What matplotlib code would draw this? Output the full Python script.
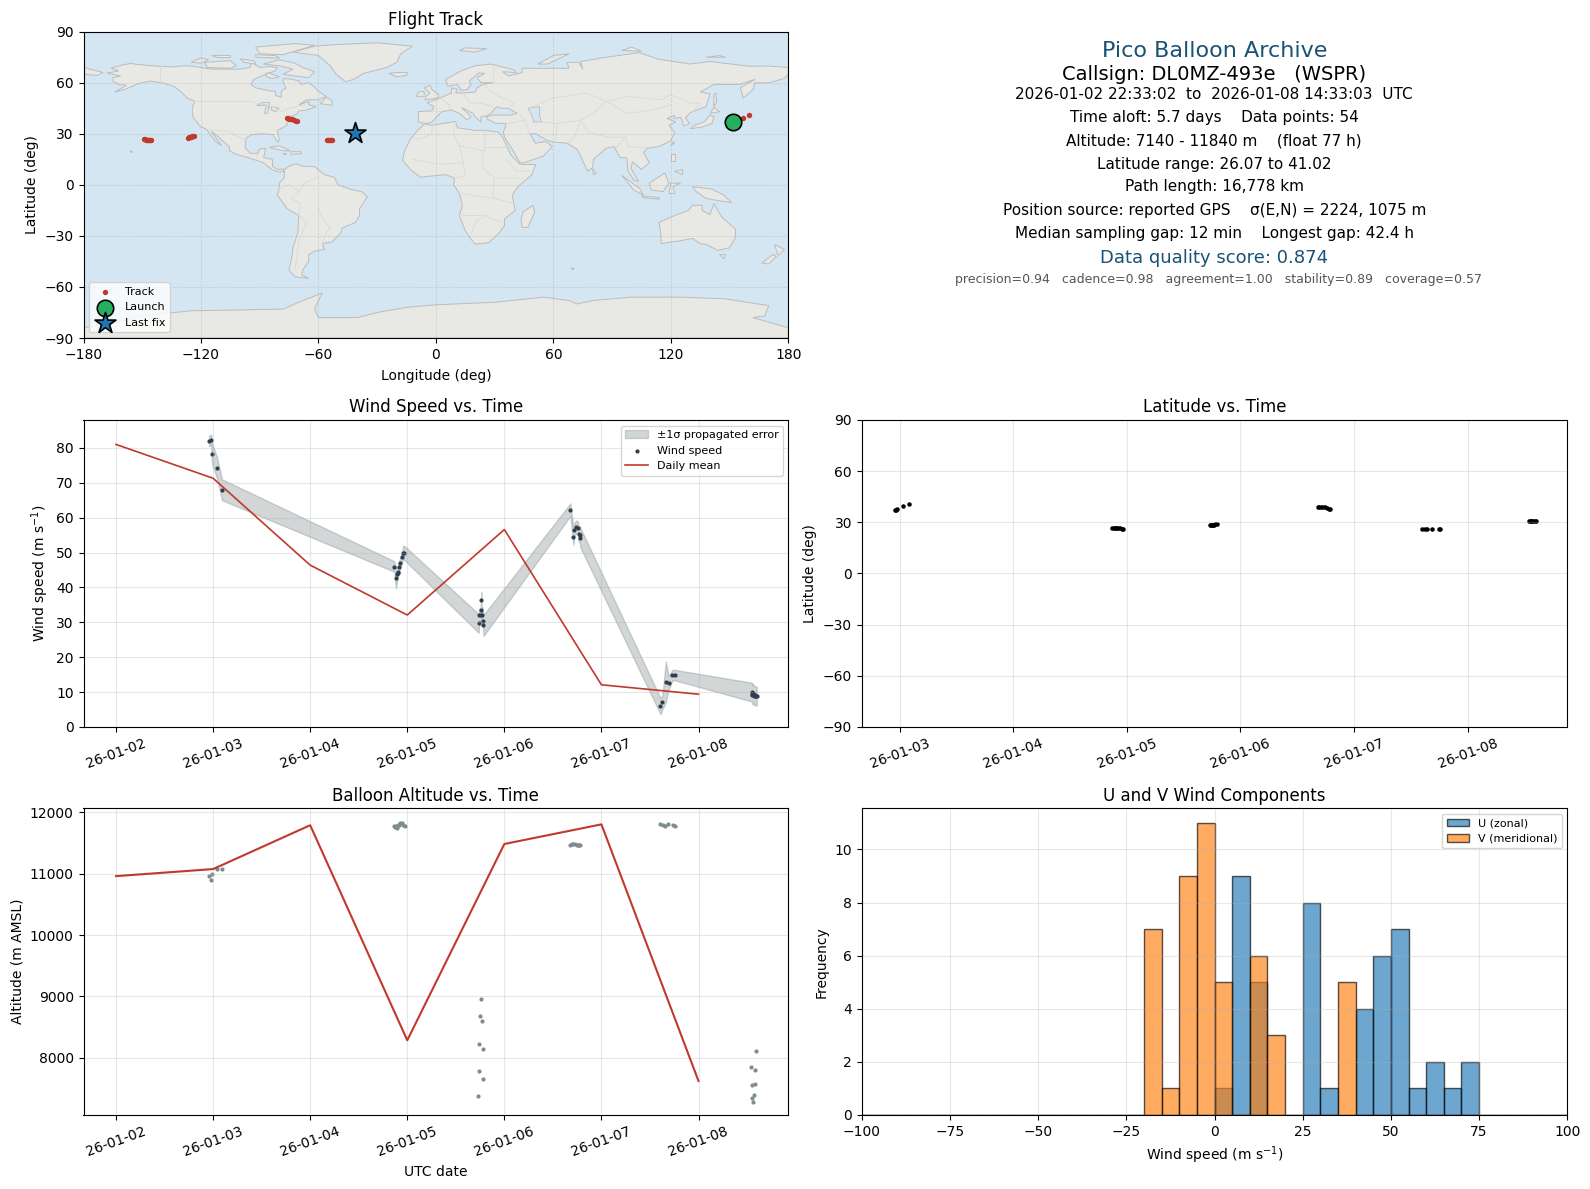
import datetime as dt
import numpy as np
import matplotlib
matplotlib.use('Agg')
import matplotlib.pyplot as plt
import matplotlib.dates as mdates
from matplotlib.patches import Polygon

W, H = 1590, 1189

# track positions, launch and last fix
track_lon = [152.0, 153.5, 155.0, 157.0, 160.1,
             -149.0, -148.6, -148.2, -147.8, -147.3, -146.9, -146.5, -146.2, -145.8, -145.5,
             -126.4, -126.0, -125.6, -125.2, -124.9, -124.5, -124.1, -123.7,
             -76.2, -75.5, -74.8, -74.2, -73.4, -72.6, -71.6, -70.8,
             -55.5, -55.0, -54.5, -54.0, -53.4, -52.9]
track_lat = [36.8, 37.3, 37.8, 39.1, 40.9,
             26.8, 26.7, 26.6, 26.5, 26.4, 26.3, 26.2, 26.1, 26.1, 26.1,
             27.8, 27.9, 28.1, 28.3, 28.4, 28.6, 28.8, 28.9,
             39.1, 39.0, 38.9, 38.7, 38.5, 38.2, 37.8, 37.3,
             26.2, 26.1, 26.1, 26.2, 26.2, 26.2]
launch_pos = (151.9, 36.8)
last_pos = (-41.2, 30.4)

# coarse land outlines (lon, lat)
north_america = [(-168, 65.6), (-164, 66.5), (-162, 67), (-166, 68.5), (-160, 70.5), (-156, 71.3), (-150, 70.5),
                 (-141, 69.7), (-135, 69.3), (-128, 70), (-124, 69.7), (-115, 68), (-108, 68), (-100, 68), (-95, 69),
                 (-94, 72), (-90, 69), (-85, 69.5), (-81, 69), (-82, 67), (-87, 65), (-93, 62), (-94.5, 59), (-92, 57),
                 (-85, 55.3), (-82, 55), (-82, 52.5), (-79, 51.5), (-79, 55), (-76.5, 57), (-78, 60), (-78, 62.5),
                 (-73, 62), (-70, 61), (-69, 59), (-65, 60), (-62, 57.5), (-60, 55), (-56, 52), (-60, 50), (-66, 50),
                 (-70, 47), (-65, 49), (-65, 47), (-61, 46), (-66, 44), (-70, 43.5), (-71, 41.5), (-74, 40.5),
                 (-76, 37), (-76, 35), (-81, 32), (-80, 27), (-80.5, 25), (-82, 27), (-83, 29.5), (-89, 30),
                 (-94, 29.5), (-97, 27.5), (-97.5, 22), (-95, 18.5), (-91, 18.5), (-90, 21), (-87, 21.5), (-88, 16),
                 (-83.5, 15), (-83.5, 11), (-81, 9), (-78, 9.3), (-77.3, 8), (-80, 7.5), (-83, 8.5), (-86, 11),
                 (-88, 13), (-92, 14.5), (-96, 16), (-102, 18), (-105.5, 20), (-105.5, 22.5), (-109, 26),
                 (-112.5, 29.5), (-114.8, 31.5), (-112, 27), (-109.5, 23), (-112, 25), (-115, 29), (-117, 32.5),
                 (-120.5, 34.5), (-122.5, 37.5), (-124, 40), (-124.5, 43), (-124, 47), (-123, 49), (-127, 51),
                 (-130, 54.5), (-134, 58), (-140, 60), (-146, 61), (-152, 59.5), (-158, 56.5), (-164, 54.5),
                 (-158, 58.5), (-162, 59), (-165, 61), (-165, 63), (-161, 64)]
south_america = [(-78, 8.5), (-75, 11), (-71.5, 12.3), (-68, 11), (-62, 10.7), (-57, 6), (-52, 4.5), (-50, 0),
                 (-44, -2.5), (-38, -4), (-35, -7), (-39, -14), (-39, -18), (-41, -22), (-48, -25.5), (-48.5, -28),
                 (-53, -33.5), (-58, -34.5), (-57, -38), (-62, -39), (-65, -41), (-65, -45), (-68, -50), (-68.5, -53),
                 (-65, -55), (-72, -54), (-75, -50), (-73.5, -42), (-73, -37), (-70.5, -28), (-70, -18), (-76, -14),
                 (-81, -6), (-80, -2.5), (-80, 1), (-77.5, 4), (-77.3, 8)]
africa = [(-6, 35.8), (-2, 35), (10, 37.3), (11, 33.5), (20, 32), (25, 32), (32, 31), (34, 28), (37, 21), (38, 18),
          (43, 12), (51, 12), (49, 6), (42, -1), (39, -6), (40.5, -15), (35, -20), (35, -24), (32.5, -28), (27, -34),
          (20, -34.8), (18, -32), (15, -27), (12, -18), (13.5, -12), (12, -5), (9, 0), (9.5, 4), (5, 6), (-4, 5),
          (-8, 4.5), (-13, 9), (-17, 14.5), (-16, 20), (-13, 27), (-10, 31)]
eurasia = [(-9, 37), (-9, 43), (-2, 43.5), (-1, 46), (-4.5, 48.3), (2, 51), (8, 54), (8, 57), (11, 56), (10, 54),
           (14, 54), (20, 54.5), (21, 57), (24, 59), (29, 60), (23, 60), (21, 63), (25, 65.5), (22, 65.8), (17, 61),
           (18, 59), (16, 56), (13, 55.5), (11, 59), (6, 58), (5, 62), (13, 67), (20, 70), (28, 71), (40, 67.5),
           (41, 66), (34, 66.5), (37, 64), (44, 66), (44, 68.5), (54, 68.5), (68, 68.5), (67, 72), (73, 72), (75, 68),
           (74, 72.5), (87, 75), (104, 77.7), (113, 74), (130, 71), (140, 72.5), (160, 69.7), (170, 69.8), (180, 69),
           (180, 65), (178, 62.5), (170, 60), (163, 60), (162, 56), (157, 51), (155.5, 57), (163, 62), (155, 59),
           (142, 59), (135, 54.5), (140, 53.5), (138, 46), (130, 42.5), (127.5, 39.5), (129.5, 36), (126.5, 34.5),
           (126, 37.5), (125, 39.7), (121.5, 39), (122, 40.8), (118, 39), (122.5, 37), (119, 35), (122, 31), (120, 26),
           (114, 22.5), (108, 21.5), (106, 19), (109, 13), (105, 9), (100.5, 13.5), (99.5, 10), (103.5, 2), (101, 3),
           (98, 8.5), (97.5, 16), (94, 16), (91, 22.5), (87, 21.5), (80.5, 15), (80, 10), (77.5, 8), (73, 19), (72, 21),
           (67, 24.5), (61, 25), (57, 26), (51, 30), (48, 30), (50, 26), (51, 24.5), (56, 25.5), (59.5, 22.5), (55, 17),
           (45, 13), (43, 13), (39, 21), (35, 28), (34.5, 31), (36, 36), (30, 36.3), (26.5, 38.5), (26, 40), (29, 41),
           (31, 41), (38, 41), (41.5, 42), (37, 45), (33.5, 45), (31, 46), (28, 42), (26, 40.5), (23, 40), (23, 37),
           (20, 40), (19, 42), (13, 45.5), (18, 40), (16, 38), (12, 42), (8, 44), (3, 43), (0, 39.5), (-2, 37), (-5, 36)]
antarctica = [(-180, -90), (-180, -84), (-160, -80), (-150, -77), (-125, -74), (-100, -73.5), (-78, -73), (-70, -69),
              (-58, -63.5), (-60, -68), (-62, -73), (-60, -78), (-40, -78), (-30, -75), (-15, -72), (0, -70.5),
              (30, -69), (55, -66), (68, -68), (72, -70), (80, -68), (100, -66), (125, -66), (148, -67), (170, -71),
              (168, -77), (162, -78), (180, -84), (180, -90)]
islands = [
    [(-73, 78), (-60, 76), (-54, 70), (-51, 65), (-46, 60.5), (-42, 62), (-37, 65.5), (-25, 69), (-20, 72), (-18, 77),
     (-12, 81.5), (-30, 83.5), (-50, 82.5), (-62, 81.5)],  # Greenland
    [(-80, 73.5), (-72, 71.5), (-68, 69), (-62, 66.5), (-65, 63), (-72, 64), (-78, 65), (-73, 68), (-80, 70), (-88, 71)],
    [(-117, 69), (-105, 68.5), (-102, 70), (-105, 73), (-118, 72)],
    [(-125, 72), (-120, 71.5), (-116, 73.5), (-120, 74.5)],
    [(-90, 77), (-78, 76.5), (-62, 82), (-72, 83), (-92, 81)],
    [(-92, 75), (-80, 74.5), (-82, 76), (-92, 76.5)],
    [(-112, 75), (-105, 75), (-105, 76.5), (-115, 76.5)],
    [(-100, 74), (-93, 73), (-92, 71), (-98, 72)],
    [(-86, 66), (-80, 63.5), (-84, 62.5), (-87, 64)],
    [(-59, 47.7), (-53, 46.8), (-53, 49.5), (-56, 51.5)],
    [(-85, 22), (-80, 23), (-74.5, 20), (-78, 20)],
    [(-74, 19.5), (-69, 19.5), (-68.5, 18.3), (-74, 18)],
    [(-78, 18.4), (-76.3, 18.2), (-77, 17.7)],
    [(-156, 20), (-155, 19.5), (-155.5, 19), (-156, 19.3)],
    [(-24, 65.5), (-20, 63.5), (-15, 64.3), (-14.5, 66), (-20, 66)],
    [(-5.5, 50), (1, 51), (1.5, 53), (-2, 56), (-3, 58.5), (-6, 57), (-3, 54), (-5, 52)],
    [(-10, 52), (-6, 52), (-6, 55), (-9, 54.5)],
    [(12, 79), (20, 78), (26, 80), (15, 80.5)],
    [(52, 71), (57, 71), (68, 77), (60, 76)],
    [(95, 79), (105, 78.5), (100, 81)],
    [(138, 75), (148, 75), (145, 76)],
    [(-180, 69), (-175, 67.5), (-170, 66), (-173, 64.3), (-180, 65)],
    [(49.5, -12), (50.5, -16), (47, -25), (44, -25), (43.5, -20), (44.5, -16)],
    [(142, 46), (143.5, 49), (143, 54), (142, 53)],
    [(130, 33), (136, 34), (141, 36), (142, 40), (140, 41), (137, 37), (132, 35)],
    [(140, 42), (145, 43), (142, 45.5)],
    [(120, 23), (122, 25), (121, 25)],
    [(120, 18), (122, 18), (122, 14), (120, 14)],
    [(122, 8), (126, 9), (126, 6)],
    [(109, 1), (113, 4), (117, 7), (119, 1), (116, -4), (110, -3)],
    [(95, 5.5), (104, -2), (106, -6), (101, -3)],
    [(105, -6.5), (114, -7.5), (114, -8.5), (106, -7.5)],
    [(119, -5), (120, 1), (125, 1), (121, -1), (122, -5)],
    [(131, -1), (141, -2.5), (147, -6), (151, -10.5), (143, -9), (138, -8), (133, -4)],
    [(114, -22), (122, -18), (129, -15), (131, -12), (136, -12), (136, -15), (140, -17.5), (142, -11), (146, -19),
     (153, -26), (153, -31), (150, -37), (144, -38.5), (138, -35), (135, -34.5), (131, -31.5), (124, -33), (115, -34.5),
     (115, -30)],  # Australia
    [(145, -41), (148, -41), (147, -43.5)],
    [(173, -35), (178, -38), (175, -41.5), (174, -39)],
    [(172, -41), (174, -42), (170, -46.5), (166.5, -46)],
    [(80, 9.5), (82, 7), (80.5, 6)],
    [(69, -49), (70.5, -49), (70, -50)],
]
inland_water = [
    [(47, 45), (53, 46), (53, 40), (54, 37), (50, 37), (49, 41)],
    [(-92, 47), (-85, 47), (-85, 48.5), (-89, 48.5)],
    [(-87.5, 42), (-86, 42), (-85, 46), (-87, 45.5)],
    [(-84, 46), (-80, 45), (-82, 43), (-84, 44)],
]
borders = [
    [(-141, 69.7), (-141, 60)], [(-123, 49), (-95, 49), (-83, 46), (-79, 43), (-75, 45), (-67, 47)],
    [(-117, 32.5), (-106, 31.5), (-97.5, 26)], [(-92, 14.5), (-91, 18)],
    [(-70, -18), (-66, -22), (-70, -33), (-72, -50)], [(-70, -18), (-69, -11), (-74, -8), (-70, -4), (-67, 1), (-60, 5)],
    [(-58, -34.5), (-57, -30), (-54, -25), (-58, -20), (-60, -14)], [(-80, -2.5), (-75, 0), (-70, -4)],
    [(-2, 35), (-2, 30), (-8, 27), (-13, 27)], [(10, 37), (9, 30), (12, 23), (25, 20), (25, 32)],
    [(25, 22), (36, 22)], [(12, 23), (14, 13), (3, 12), (-12, 15)], [(24, 20), (24, 10), (30, 4), (42, 4)],
    [(14, 13), (15, 5), (9, 4)], [(12, -5), (30, -8), (40, -11)], [(12, -18), (25, -18), (33, -22)],
    [(18, -29), (20, -22), (25, -18)], [(30, 4), (29, -5), (30, -8)], [(36, 15), (41, 8), (48, 8)],
    [(2, 51), (7, 47), (7, 44)], [(14, 54), (17, 48), (23, 48), (29, 46)], [(-2, 43.5), (3, 43)],
    [(24, 59), (28, 55), (32, 52), (40, 48), (38, 46)], [(29, 60), (29, 69)],
    [(47, 45), (60, 51), (77, 54), (87, 49)], [(87, 49), (98, 52), (115, 50), (120, 53), (130, 48), (135, 48), (131, 43)],
    [(87, 49), (80, 42), (74, 38), (62, 36), (53, 37)], [(98, 42), (87, 49)], [(98, 42), (111, 44), (120, 47)],
    [(74, 38), (78, 31), (88, 28), (97, 28), (98, 23), (102, 22), (107, 22)], [(74, 38), (71, 28), (67, 24.5)],
    [(61, 25), (62, 36)], [(48, 30), (45, 38), (36, 36)], [(45, 38), (43, 41)], [(97, 28), (92, 22)],
]

# wind speed samples, days since 2026-01-02 00 UTC
wind_t = [0.959, 0.980, 0.990, 1.040, 1.092,
          2.867, 2.884, 2.894, 2.900, 2.904, 2.915, 2.928, 2.945, 2.959, 2.966,
          3.735, 3.742, 3.756, 3.763, 3.763, 3.773, 3.783, 3.785,
          4.680, 4.711, 4.722, 4.742, 4.759, 4.766, 4.780, 4.783,
          5.608, 5.629, 5.663, 5.691, 5.732, 5.753,
          6.550, 6.553, 6.556, 6.560, 6.565, 6.570, 6.578, 6.585, 6.592, 6.600]
wind_v = [82.0, 82.3, 78.3, 74.3, 68.0,
          46.0, 42.6, 43.9, 44.2, 44.5, 46.0, 47.1, 48.6, 50.0, 50.0,
          29.7, 32.0, 32.0, 36.3, 33.4, 32.0, 30.4, 29.1,
          62.3, 54.6, 56.6, 57.4, 57.1, 55.2, 55.1, 54.3,
          6.0, 7.1, 12.9, 12.6, 14.9, 14.9,
          10.0, 9.6, 9.2, 9.8, 9.4, 9.0, 9.2, 8.9, 8.8, 8.9]
wind_sig = [1.5, 1.5, 3.0, 3.0, 3.0,
            1.5, 3.0, 2.0, 2.0, 1.5, 1.5, 1.5, 1.5, 2.0, 2.0,
            2.7, 2.0, 2.0, 2.5, 2.0, 2.0, 2.5, 3.0,
            1.8, 2.5, 2.0, 1.8, 1.8, 2.0, 2.5, 2.8,
            2.3, 2.0, 5.9, 2.0, 1.5, 1.5,
            2.7, 2.7, 2.7, 2.7, 2.7, 2.7, 2.7, 2.7, 2.7, 2.7]

# daily means
day_t = [0, 1, 2, 3, 4, 5, 6]
wind_mean = [81.0, 71.3, 46.4, 32.1, 56.6, 12.1, 9.4]
alt_mean = [10960, 11075, 11790, 8283, 11484, 11804, 7620]

# altitude samples
alt_t = [0.959, 0.975, 0.990, 1.040, 1.092,
         2.860, 2.875, 2.885, 2.895, 2.905, 2.915, 2.930, 2.945, 2.960, 2.975,
         3.731, 3.742, 3.742, 3.752, 3.762, 3.772, 3.783, 3.783,
         4.679, 4.695, 4.710, 4.725, 4.744, 4.755, 4.765, 4.775,
         5.602, 5.630, 5.657, 5.688, 5.733, 5.757,
         6.543, 6.553, 6.553, 6.563, 6.574, 6.584, 6.584, 6.594]
alt_m = [10960, 10900, 11000, 11080, 11075,
         11775, 11760, 11785, 11745, 11800, 11790, 11820, 11830, 11790, 11785,
         7380, 7788, 8228, 8685, 8951, 8603, 8147, 7658,
         11473, 11480, 11489, 11480, 11473, 11468, 11462, 11468,
         11815, 11799, 11783, 11815, 11799, 11783,
         7853, 7348, 7560, 7283, 7397, 7571, 7804, 8114]

# latitude samples
lat_t = [0.957, 0.965, 0.973, 1.030, 1.080,
         2.874, 2.885, 2.895, 2.905, 2.915, 2.925, 2.940, 2.955, 2.970,
         3.730, 3.740, 3.750, 3.760, 3.770, 3.780, 3.790,
         4.680, 4.695, 4.710, 4.725, 4.745, 4.765, 4.780, 4.790,
         5.600, 5.625, 5.645, 5.690, 5.745, 5.755,
         6.540, 6.550, 6.560, 6.570, 6.580, 6.590, 6.600]
lat_d = [37.1, 37.3, 37.7, 39.4, 40.8,
         26.6, 26.6, 26.6, 26.6, 26.5, 26.5, 26.4, 26.3, 25.9,
         28.2, 28.2, 28.3, 28.4, 28.6, 28.8, 29.0,
         39.0, 39.1, 39.0, 38.9, 38.7, 38.3, 38.0, 37.6,
         25.9, 25.9, 25.9, 25.9, 25.9, 25.9,
         30.6, 30.6, 30.6, 30.6, 30.6, 30.6, 30.6]

# histogram counts, 5 m/s bins from -100
bin_edges = np.arange(-100, 100, 5)
u_counts = dict(zip([0, 5, 10, 25, 30, 40, 45, 50, 55, 60, 65, 70], [1, 9, 5, 8, 1, 4, 6, 7, 1, 2, 1, 2]))
v_counts = dict(zip([-20, -15, -10, -5, 0, 10, 15, 35], [7, 1, 9, 11, 5, 6, 3, 5]))

# info panel text
info_lines = [
    ('Pico Balloon Archive', 16, '#1a5276', 51.5, 0.5),
    ('Callsign: DL0MZ-493e   (WSPR)', 14, 'black', 74.5, 0.5),
    ('2026-01-02 22:33:02  to  2026-01-08 14:33:03  UTC', 11, 'black', 95, 0.4992),
    ('Time aloft: 5.7 days    Data points: 54', 11, 'black', 118, 0.5),
    ('Altitude: 7140 - 11840 m    (float 77 h)', 11, 'black', 141.5, 0.4992),
    ('Latitude range: 26.07 to 41.02', 11, 'black', 164, 0.5),
    ('Path length: 16,778 km', 11, 'black', 187, 0.5),
    ('Position source: reported GPS    σ(E,N) = 2224, 1075 m', 11, 'black', 210.5, 0.5),
    ('Median sampling gap: 12 min    Longest gap: 42.4 h', 11, 'black', 233.8, 0.5),
    ('Data quality score: 0.874', 13, '#1a5276', 258, 0.5),
    ('precision=0.94   cadence=0.98   agreement=1.00   stability=0.89   coverage=0.57', 9, '#555555', 279, 0.5058),
]

RED = '#c0392b'
start = mdates.date2num(dt.datetime(2026, 1, 2))


def make_axes(fig, left, top, right, bottom):
    return fig.add_axes([left / W, 1 - bottom / H, (right - left) / W, (bottom - top) / H])


def date_axis(ax):
    ax.xaxis.set_major_locator(mdates.DayLocator())
    ax.xaxis.set_major_formatter(mdates.DateFormatter('%y-%m-%d'))
    ax.tick_params(axis='x', labelrotation=20)


fig = plt.figure(figsize=(W / 100, H / 100), dpi=100)

col1 = (83.5, 788.3)
col2 = (861.7, 1567.3)
row1 = (31.7, 338)
row2 = (420, 727)
row3 = (808.3, 1115)

# map
ax = make_axes(fig, col1[0], row1[0], col1[1], row1[1])
ax.set_facecolor('#d4e6f1')
for poly in [north_america, south_america, africa, eurasia, antarctica] + islands:
    ax.add_patch(Polygon(poly, closed=True, facecolor='#e8e8e4', edgecolor='#bcbcbc', linewidth=0.7, zorder=0.5))
for poly in inland_water:
    ax.add_patch(Polygon(poly, closed=True, facecolor='#d4e6f1', edgecolor='#bcbcbc', linewidth=0.6, zorder=0.6))
for line in borders:
    xs, ys = zip(*line)
    ax.plot(xs, ys, color='#d9d9d5', linewidth=0.6, zorder=0.7)
ax.scatter(track_lon, track_lat, s=8, color=RED, label='Track', zorder=3)
ax.scatter(*launch_pos, s=140, color='#27ae60', edgecolor='black', linewidth=1.2, label='Launch', zorder=4)
ax.scatter(*last_pos, s=250, marker='*', color='#1f77b4', edgecolor='black', linewidth=1.2, label='Last fix', zorder=4)
ax.set_xlim(-180, 180)
ax.set_ylim(-90, 90)
ax.set_xticks(np.arange(-180, 181, 60))
ax.set_yticks(np.arange(-90, 91, 30))
ax.grid(True, linestyle='--', linewidth=0.5, alpha=0.5)
ax.set_title('Flight Track', fontsize=12, pad=5)
ax.set_xlabel('Longitude (deg)', labelpad=5)
ax.set_ylabel('Latitude (deg)')
ax.legend(loc='lower left', fontsize=8)

# summary text
ax = make_axes(fig, col2[0], row1[0], col2[1], row1[1])
ax.axis('off')
for text, size, color, y, x in info_lines:
    ax.text(x, 1 - (y - row1[0]) / (row1[1] - row1[0]), text, transform=ax.transAxes,
            ha='center', va='center', fontsize=size, color=color)

# wind speed
ax = make_axes(fig, col1[0], row2[0], col1[1], row2[1])
wt = start + np.array(wind_t)
wv = np.array(wind_v)
ws = np.array(wind_sig)
ax.fill_between(wt, wv - ws, wv + ws, color='#7f8c8d', alpha=0.35, label='±1σ propagated error')
ax.scatter(wt, wv, s=4, color='#2c3e50', label='Wind speed')
ax.plot(start + np.array(day_t), wind_mean, color=RED, linewidth=1.2, label='Daily mean')
ax.set_xlim(start - 0.335, start + 6.925)
ax.set_ylim(0, 88.0)
ax.grid(True, alpha=0.3)
date_axis(ax)
ax.set_title('Wind Speed vs. Time', fontsize=12)
ax.set_ylabel('Wind speed (m s$^{-1}$)')
ax.legend(loc='upper right', fontsize=8)

# latitude
ax = make_axes(fig, col2[0], row2[0], col2[1], row2[1])
ax.scatter(start + np.array(lat_t), lat_d, s=5, color='black')
ax.set_xlim(start + 0.666, start + 6.878)
ax.set_ylim(-90, 90)
ax.set_yticks(np.arange(-90, 91, 30))
ax.grid(True, alpha=0.3)
date_axis(ax)
ax.set_title('Latitude vs. Time', fontsize=12)
ax.set_ylabel('Latitude (deg)')

# altitude
ax = make_axes(fig, col1[0], row3[0], col1[1], row3[1])
ax.scatter(start + np.array(alt_t), alt_m, s=4, color='#7f8c8d')
ax.plot(start + np.array(day_t), alt_mean, color=RED, linewidth=1.5)
ax.set_xlim(start - 0.335, start + 6.925)
ax.set_ylim(7065, 12066)
ax.set_yticks([8000, 9000, 10000, 11000, 12000])
ax.grid(True, alpha=0.3)
date_axis(ax)
ax.set_title('Balloon Altitude vs. Time', fontsize=12, pad=5)
ax.set_xlabel('UTC date')
ax.set_ylabel('Altitude (m AMSL)')

# U/V histogram
ax = make_axes(fig, col2[0], row3[0], col2[1], row3[1])
u_h = [u_counts.get(int(e), 0) for e in bin_edges]
v_h = [v_counts.get(int(e), 0) for e in bin_edges]
ax.bar(bin_edges, u_h, width=5, align='edge', color='#1f77b4', alpha=0.65, edgecolor='black', label='U (zonal)')
ax.bar(bin_edges, v_h, width=5, align='edge', color='#ff7f0e', alpha=0.65, edgecolor='black', label='V (meridional)')
ax.set_xlim(-100, 100)
ax.set_ylim(0, 11.55)
ax.set_yticks(np.arange(0, 11, 2))
ax.grid(True, alpha=0.3)
ax.set_title('U and V Wind Components', fontsize=12, pad=5)
ax.set_xlabel('Wind speed (m s$^{-1}$)')
ax.set_ylabel('Frequency')
ax.legend(loc='upper right', fontsize=8)

fig.savefig('out.png', dpi=100)
